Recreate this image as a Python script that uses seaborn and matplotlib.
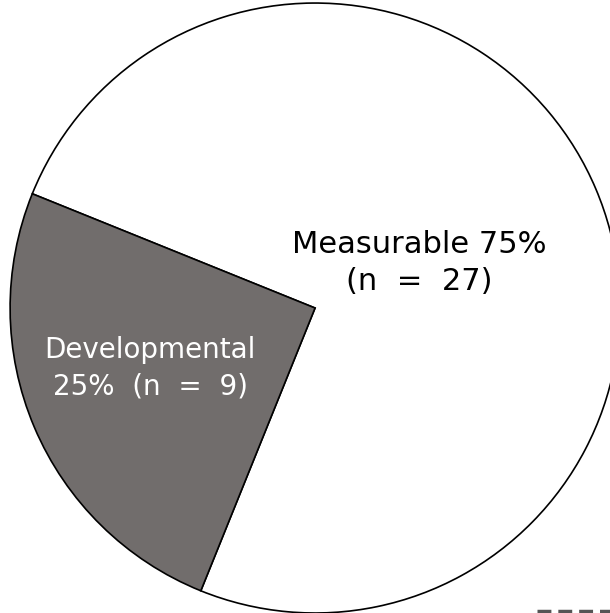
import matplotlib
matplotlib.use("Agg")
import matplotlib.pyplot as plt
import seaborn as sns

categories = ["Measurable", "Developmental"]
counts = [27, 9]
percents = [75, 25]
colors = ["#ffffff", "#716d6c"]
text_colors = ["#000000", "#ffffff"]

sns.set_theme(style="white")
plt.rcParams['font.family'] = ['DejaVu Sans']

fig = plt.figure(figsize=(6.10, 6.13), dpi=100)
ax = fig.add_axes([0, 0, 1, 1])
wedges, _ = ax.pie(counts, colors=colors, startangle=248, counterclock=True,
                   radius=1.0, wedgeprops=dict(edgecolor="black", linewidth=1.2))
ax.set_xlim(-1.033, 0.967)
ax.set_ylim(-1.0, 1.010)
ax.set_aspect("equal")
ax.axis("off")

label_pos = [(0.341, 0.148), (-0.541, -0.197)]
labels = [f"{categories[0]} {percents[0]}%\n(n  =  {counts[0]})",
          f"{categories[1]}\n{percents[1]}%  (n  =  {counts[1]})"]
sizes = [22, 20]
spacings = [1.37, 1.36]
for (x, y), t, c, fs, ls in zip(label_pos, labels, text_colors, sizes, spacings):
    ax.text(x, y, t, ha="center", va="center", fontsize=fs, color=c, linespacing=ls)

# cropped dashed fragment at the bottom-right edge
fig.add_artist(plt.Line2D([0.88, 1.0], [0.003, 0.003], transform=fig.transFigure,
                          color="#555555", linewidth=2.5, linestyle=(0, (4, 2))))

fig.savefig("out.png", dpi=100, facecolor="white")
